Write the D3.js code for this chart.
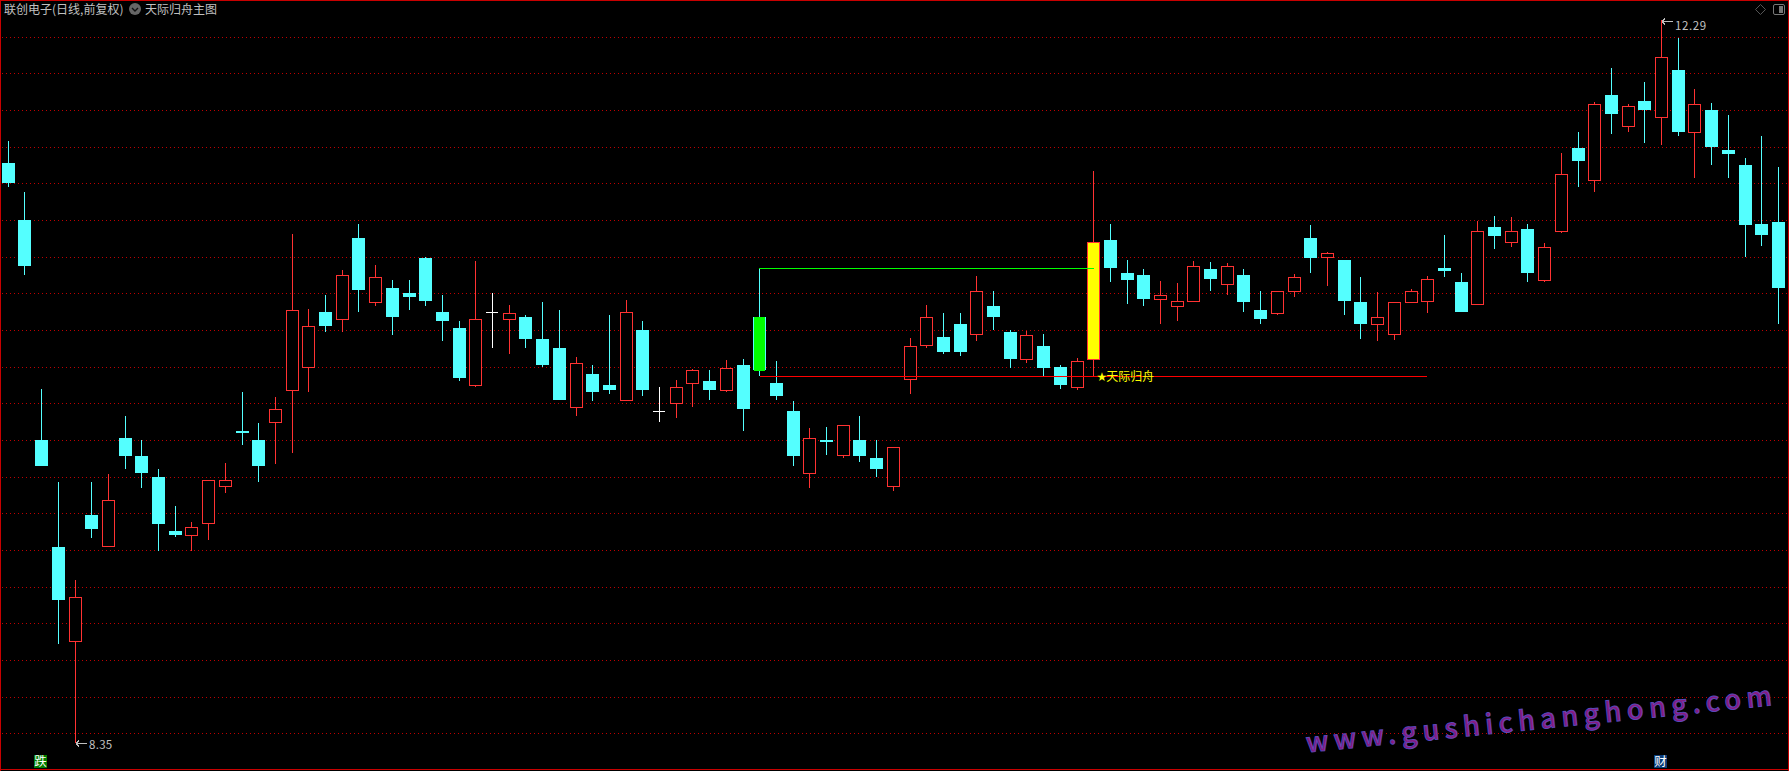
<!DOCTYPE html>
<html><head><meta charset="utf-8">
<script src="https://cdn.jsdelivr.net/npm/d3@7"></script>
<style>html,body{margin:0;padding:0;background:#000;overflow:hidden}svg{display:block}text{font-family:"Noto Sans CJK SC","Noto Sans",sans-serif}</style>
</head><body><svg id="c" width="1789" height="771"></svg>
<script>
const high=[11.633,11.356,10.283,9.776,9.242,9.776,9.820,10.136,10.005,9.847,
9.645,9.558,9.787,9.880,10.266,10.097,10.239,11.127,10.718,10.795,
10.931,11.181,10.958,10.876,10.876,11.002,10.795,10.653,10.980,10.806,
10.740,10.686,10.757,10.713,10.457,10.413,10.686,10.767,10.653,10.294,
10.332,10.392,10.386,10.441,10.446,10.942,10.435,10.217,10.070,10.076,
10.087,10.136,10.005,9.967,10.560,10.740,10.697,10.697,10.898,10.816,
10.604,10.599,10.582,10.413,10.452,11.470,11.181,10.985,10.936,10.871,
10.860,10.980,10.974,10.969,10.936,10.816,10.816,10.909,11.176,11.029,
10.985,10.893,10.811,10.757,10.827,10.898,11.121,10.915,11.198,11.225,
11.220,11.181,11.078,11.568,11.683,11.846,12.031,11.835,11.955,12.29,
12.195,11.917,11.841,11.775,11.541,11.661,11.492];
const low=[11.383,10.904,9.863,8.888,8.35,9.466,9.417,9.847,9.743,9.395,
9.476,9.395,9.455,9.716,9.978,9.776,9.874,9.934,10.266,10.593,
10.593,10.702,10.735,10.577,10.713,10.735,10.544,10.326,10.294,10.506,
10.473,10.506,10.402,10.223,10.136,10.217,10.255,10.217,10.244,10.103,
10.125,10.185,10.223,10.266,10.054,10.353,10.223,9.863,9.743,9.923,
9.907,9.885,9.803,9.722,10.255,10.506,10.473,10.462,10.544,10.604,
10.397,10.424,10.353,10.283,10.277,10.353,10.865,10.746,10.735,10.637,
10.653,10.757,10.816,10.795,10.702,10.637,10.686,10.784,10.915,10.844,
10.686,10.555,10.544,10.550,10.751,10.697,10.893,10.702,10.740,11.045,
11.056,10.865,10.865,11.132,11.383,11.356,11.672,11.683,11.623,11.612,
11.661,11.432,11.503,11.432,11.002,11.062,10.637];
const open=[11.514,11.203,10.005,9.417,8.899,9.596,9.422,10.016,9.918,9.803,
9.504,9.482,9.542,9.749,10.054,10.005,10.097,10.272,10.397,10.702,
10.659,11.105,10.751,10.833,10.806,10.996,10.702,10.615,10.299,10.702,
10.659,10.675,10.555,10.506,10.179,10.364,10.304,10.217,10.604,10.163,
10.201,10.310,10.326,10.272,10.413,10.675,10.315,10.163,9.820,10.005,
9.918,10.005,9.907,9.749,10.332,10.517,10.566,10.637,10.577,10.735,
10.593,10.441,10.517,10.402,10.288,10.441,11.094,10.915,10.904,10.767,
10.729,10.757,10.936,10.849,10.904,10.713,10.691,10.811,11.105,10.996,
10.985,10.757,10.631,10.577,10.751,10.757,10.942,10.865,10.740,11.165,
11.078,11.154,10.871,11.138,11.595,11.416,11.884,11.710,11.851,11.759,
12.020,11.677,11.802,11.584,11.503,11.181,11.192];
const close=[11.405,10.953,9.863,9.133,9.144,9.515,9.678,9.918,9.825,9.547,
9.487,9.526,9.787,9.787,10.043,9.863,10.174,10.713,10.626,10.626,
10.904,10.822,10.893,10.675,10.784,10.762,10.653,10.343,10.664,10.702,
10.697,10.555,10.413,10.223,10.424,10.266,10.277,10.702,10.277,10.163,
10.294,10.386,10.277,10.397,10.174,10.386,10.244,9.918,10.016,9.994,
10.087,9.918,9.847,9.967,10.517,10.675,10.484,10.484,10.816,10.675,
10.446,10.577,10.397,10.304,10.435,11.083,10.942,10.876,10.773,10.795,
10.762,10.953,10.882,10.953,10.757,10.664,10.816,10.893,10.996,11.023,
10.762,10.637,10.675,10.757,10.816,10.882,10.925,10.702,11.143,11.116,
11.143,10.915,11.056,11.454,11.525,11.835,11.781,11.824,11.802,12.091,
11.683,11.835,11.601,11.563,11.176,11.121,10.833];
const gridPrices=d3.range(20).map(k=>12.2-k*0.2);
const startIdx=45, endIdx=65, redEndIdx=85, lowLabelIdx=4, highLabelIdx=99;
const upColor="#ff3232", downColor="#54ffff", dojiColor="#ffffff", gridColor="#c00000";
const title1="联创电子(日线,前复权)", title2="天际归舟主图", signalStar="★", signal="天际归舟", watermark="www.gushichanghong.com";

const svg=d3.select("#c");
const x=d3.scaleLinear().domain([0,106]).range([8.2,1778.4]);
const y=d3.scaleLinear().domain([12.2,8.4]).range([37,733.95]);
const X=i=>Math.floor(x(i)), Y=p=>Math.round(y(p));

svg.append("g").selectAll("line").data(gridPrices).join("line")
 .attr("x1",2).attr("x2",1787).attr("y1",d=>Math.floor(y(d))+.5).attr("y2",d=>Math.floor(y(d))+.5)
 .attr("stroke",gridColor).attr("stroke-dasharray","1 3").attr("shape-rendering","crispEdges");

const border=svg.append("g").attr("shape-rendering","crispEdges").attr("fill","#c80000");
[[0,0,1,771],[1788,0,1,771],[0,0,1789,1],[0,769,1789,1]].forEach(r=>border.append("rect").attr("x",r[0]).attr("y",r[1]).attr("width",r[2]).attr("height",r[3]));

const idx=d3.range(high.length);
const col=i=>close[i]>open[i]?upColor:close[i]<open[i]?downColor:dojiColor;
const g=svg.append("g").attr("shape-rendering","crispEdges");
g.selectAll(".w").data(idx).join("rect").attr("class","w")
 .attr("x",X).attr("width",1).attr("y",i=>Y(high[i])).attr("height",i=>Math.max(1,Y(low[i])-Y(high[i]))).attr("fill",col);
g.selectAll(".b").data(idx).join("rect").attr("class","b")
 .each(function(i){
  const s=d3.select(this), t=Y(Math.max(open[i],close[i])), b=Y(Math.min(open[i],close[i])), h=b-t;
  if(close[i]>open[i]){
    s.attr("x",X(i)-5.5).attr("y",t+.5).attr("width",12).attr("height",Math.max(1,h-1)).attr("fill",i===endIdx?"#ffff00":"#000").attr("stroke",upColor).attr("stroke-width",1);
  } else if(close[i]<open[i]){
    s.attr("x",X(i)-6).attr("y",t).attr("width",13).attr("height",Math.max(2,h)).attr("fill",downColor);
  } else {
    s.attr("x",X(i)-6).attr("y",t).attr("width",12).attr("height",1).attr("fill",dojiColor);
  }
 });
g.append("rect").attr("x",X(startIdx)-5).attr("y",Y(open[startIdx])).attr("width",11).attr("height",Y(close[startIdx])-Y(open[startIdx])+1).attr("fill","#00ff00");

const yH=Y(high[startIdx])+.5, yL=Y(low[startIdx])+.5;
svg.append("line").attr("x1",X(startIdx)).attr("x2",X(endIdx)+1).attr("y1",yH).attr("y2",yH).attr("stroke","#00ff00").attr("shape-rendering","crispEdges");
svg.append("line").attr("x1",X(startIdx)+1).attr("x2",X(redEndIdx)).attr("y1",yL).attr("y2",yL).attr("stroke","#ff0000").attr("shape-rendering","crispEdges");

svg.append("text").attr("x",4).attr("y",14).attr("fill","#c0c0c0").attr("font-size",12).text(title1);
svg.append("circle").attr("cx",135).attr("cy",9).attr("r",6).attr("fill","#666");
svg.append("path").attr("d","M132 8l3 3l3-3").attr("fill","none").attr("stroke","#111").attr("stroke-width",1.4);
svg.append("text").attr("x",145).attr("y",14).attr("fill","#c0c0c0").attr("font-size",12).text(title2);

svg.append("path").attr("d","M1760.5 4.5l5 5l-5 5l-5-5z").attr("fill","none").attr("stroke","#555");
svg.append("rect").attr("x",1773.5).attr("y",4.5).attr("width",11).attr("height",10).attr("rx",1.5).attr("fill","none").attr("stroke","#777");
svg.append("rect").attr("x",1779).attr("y",6).attr("width",4).attr("height",7).attr("fill","#777");

function lab(i,v,txtY,ls){
  const xx=X(i), yy=Y(v)+(v>12?1:0);
  svg.append("path").attr("d",`M${xx+1} ${yy+.5}h11M${xx+1} ${yy+.5}l3 -3M${xx+1} ${yy+.5}l3 3`).attr("fill","none").attr("stroke","#c0c0c0").attr("shape-rendering","crispEdges");
  svg.append("text").attr("x",xx+14).attr("y",txtY).attr("fill","#c0c0c0").attr("font-size",11.5).attr("font-family","Liberation Sans").attr("letter-spacing",ls).text(v.toFixed(2));
}
lab(lowLabelIdx,low[lowLabelIdx],749,.3);
lab(highLabelIdx,high[highLabelIdx],30,.6);

const sig=svg.append("text").attr("x",X(endIdx)+3.5).attr("y",Y(low[startIdx])+5).attr("fill","#ffff00").attr("font-size",12);
sig.append("tspan").attr("font-size",12).attr("font-family","DejaVu Sans").text(signalStar);
sig.append("tspan").attr("dx",-1).text(signal);

function tag(cx,t,bg){
  svg.append("rect").attr("x",cx-7).attr("y",755).attr("width",13).attr("height",13).attr("fill",bg).attr("shape-rendering","crispEdges");
  svg.append("text").attr("x",cx-.5).attr("y",766).attr("text-anchor","middle").attr("fill","#fff").attr("font-size",12.5).text(t);
}
tag(X(2),"跌","#007c00");
tag(X(highLabelIdx),"财","#0a3c78");

svg.append("text").attr("transform","translate(1307,752.5) rotate(-5.8)")
 .attr("font-family","Open Sans").attr("font-weight",500).attr("font-size",27)
 .attr("textLength",468).attr("lengthAdjust","spacing")
 .attr("fill","#8a1a80").attr("stroke","#5a48b8").attr("stroke-width",1).text(watermark);
</script></body></html>
